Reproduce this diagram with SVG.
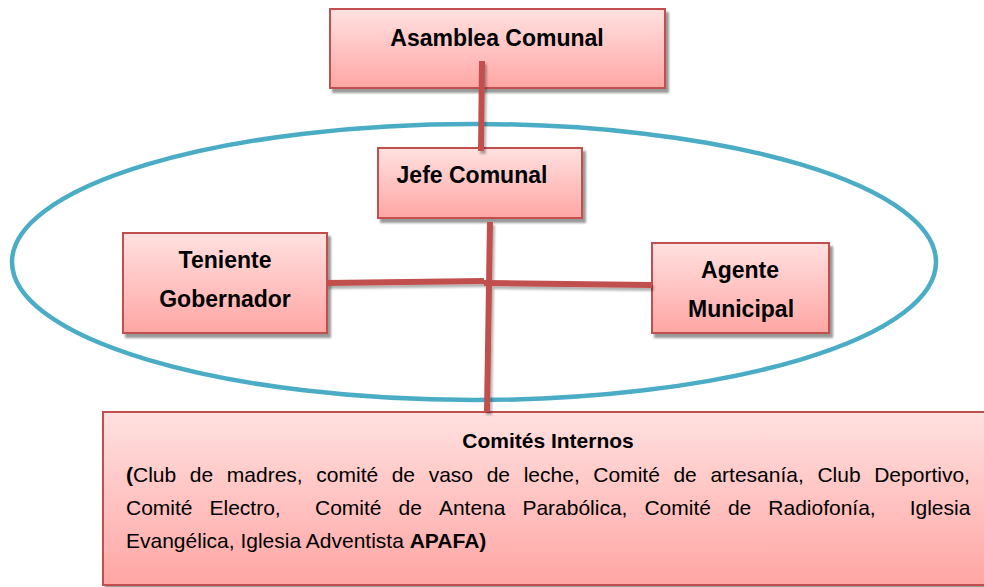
<svg xmlns="http://www.w3.org/2000/svg" width="984" height="587" viewBox="0 0 984 587">
  <defs>
    <linearGradient id="pink" x1="0" y1="0" x2="0" y2="1">
      <stop offset="0" stop-color="#FFE1E0"/>
      <stop offset="1" stop-color="#FFA6A4"/>
    </linearGradient>
    <filter id="shadow" x="-10%" y="-10%" width="120%" height="130%">
      <feGaussianBlur in="SourceAlpha" stdDeviation="1.2"/>
      <feOffset dx="3" dy="4" result="b"/>
      <feComponentTransfer><feFuncA type="linear" slope="0.4"/></feComponentTransfer>
      <feMerge><feMergeNode/><feMergeNode in="SourceGraphic"/></feMerge>
    </filter>
    <filter id="lshadow" x="-10%" y="-50%" width="120%" height="300%">
      <feGaussianBlur in="SourceAlpha" stdDeviation="1"/>
      <feOffset dx="2" dy="3" result="b"/>
      <feComponentTransfer><feFuncA type="linear" slope="0.3"/></feComponentTransfer>
      <feMerge><feMergeNode/><feMergeNode in="SourceGraphic"/></feMerge>
    </filter>
  </defs>
  <style>
    .box { fill: url(#pink); stroke: #C0504D; stroke-width: 2; filter: url(#shadow); }
    .lbl { font-family: "Liberation Sans", Arial, sans-serif; font-weight: bold; font-size: 23px; fill: #000; text-anchor: middle; }
    .body { font-family: "Liberation Sans", Arial, sans-serif; font-size: 21px; fill: #000; }
    .conn { stroke: #C0504D; stroke-width: 6; fill: none; }
  </style>

  <ellipse id="ellipse" cx="474" cy="262" rx="462" ry="138" fill="none" stroke="#4BACC6" stroke-width="4.5"/>

  <g id="asamblea">
    <rect class="box" x="330" y="9" width="335" height="79"/>
    <text class="lbl" x="497" y="46">Asamblea Comunal</text>
  </g>
  <g id="jefe">
    <rect class="box" x="378" y="148" width="204" height="70"/>
    <text class="lbl" x="472" y="183">Jefe Comunal</text>
  </g>
  <g id="teniente">
    <rect class="box" x="123" y="233" width="204" height="100"/>
    <text class="lbl" x="225" y="268">Teniente</text>
    <text class="lbl" x="225" y="307">Gobernador</text>
  </g>
  <g id="agente">
    <rect class="box" x="652" y="243" width="177" height="90"/>
    <text class="lbl" x="740" y="278">Agente</text>
    <text class="lbl" x="741" y="317">Municipal</text>
  </g>
  <g id="comites">
    <rect class="box" x="103" y="412" width="890" height="173"/>
    <text class="lbl" x="548" y="448" style="font-size:21px">Comités Internos</text>
    <text class="body" y="482"><tspan x="126" font-weight="bold">(</tspan><tspan>Club</tspan><tspan x="189.8">de</tspan><tspan x="226.8">madres,</tspan><tspan x="316.3">comité</tspan><tspan x="391.7">de</tspan><tspan x="428.7">vaso</tspan><tspan x="486.7">de</tspan><tspan x="523.7">leche,</tspan><tspan x="593.3">Comité</tspan><tspan x="673.4">de</tspan><tspan x="710.4">artesanía,</tspan><tspan x="817.4">Club</tspan><tspan x="874.2">Deportivo,</tspan></text>
    <text class="body" y="515"><tspan x="126">Comité</tspan><tspan x="209.5">Electro,</tspan><tspan x="315">Comité</tspan><tspan x="398.5">de</tspan><tspan x="438.9">Antena</tspan><tspan x="522.4">Parabólica,</tspan><tspan x="644.4">Comité</tspan><tspan x="727.9">de</tspan><tspan x="768.3">Radiofonía,</tspan><tspan x="909.7">Iglesia</tspan></text>
    <text class="body" y="548" x="126">Evangélica, Iglesia Adventista <tspan font-weight="bold">APAFA)</tspan></text>
  </g>

  <g id="connectors" filter="url(#lshadow)">
    <line class="conn" x1="482" y1="61" x2="481" y2="151"/>
    <line class="conn" x1="490" y1="222" x2="487" y2="412"/>
    <line class="conn" x1="327" y1="283" x2="484" y2="281"/>
    <line class="conn" x1="484" y1="283" x2="652" y2="285"/>
  </g>
</svg>
